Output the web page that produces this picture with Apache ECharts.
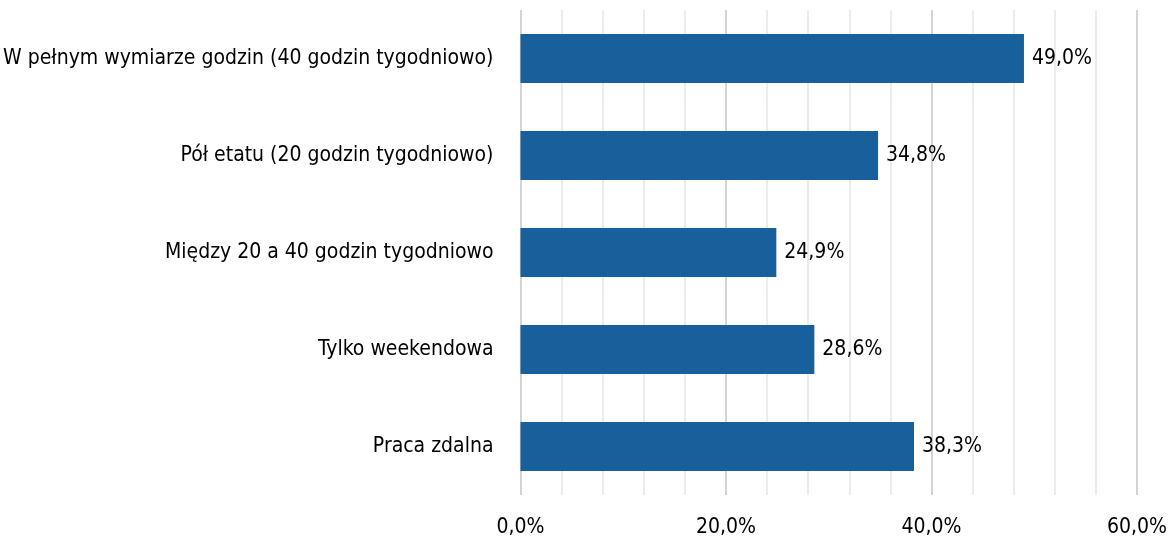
<!DOCTYPE html>
<html>
<head>
<meta charset="utf-8">
<script src="https://cdn.jsdelivr.net/npm/echarts@6/dist/echarts.min.js"></script>
<style>
  html, body { margin: 0; padding: 0; background: #fff; }
  #chart { width: 1170px; height: 545px; }
</style>
</head>
<body>
<div id="chart"></div>
<script>
// categories top to bottom
const categories = [
  'W pełnym wymiarze godzin (40 godzin tygodniowo)',
  'Pół etatu (20 godzin tygodniowo)',
  'Między 20 a 40 godzin tygodniowo',
  'Tylko weekendowa',
  'Praca zdalna'
];
const values = [49.0, 34.8, 24.9, 28.6, 38.3];

const FONT = '"Liberation Sans Narrow", "DejaVu Sans Condensed", sans-serif';
const pct = v => v.toFixed(1).replace('.', ',') + '%';

const chart = echarts.init(document.getElementById('chart'));
chart.setOption({
  animation: false,
  grid: { left: 520, right: 33, top: 10, bottom: 50 },
  xAxis: {
    type: 'value',
    min: 0,
    max: 60,
    interval: 20,
    axisLine: { show: false },
    axisTick: { show: false },
    axisLabel: {
      formatter: v => pct(v),
      color: '#000',
      fontFamily: FONT,
      fontSize: 21,
      margin: 22
    },
    splitLine: { lineStyle: { color: '#d4d4d4', width: 2 } },
    minorTick: { show: false, splitNumber: 5 },
    minorSplitLine: { show: true, lineStyle: { color: '#ececec', width: 2 } }
  },
  yAxis: {
    type: 'category',
    inverse: true,
    data: categories,
    axisLine: { show: false },
    axisTick: { show: false },
    axisLabel: {
      color: '#000',
      fontFamily: FONT,
      fontSize: 21,
      margin: 27
    }
  },
  series: [{
    type: 'bar',
    data: values,
    barWidth: 49,
    itemStyle: { color: '#17609b' },
    label: {
      show: true,
      position: 'right',
      distance: 8,
      formatter: p => pct(p.value),
      color: '#000',
      fontFamily: FONT,
      fontSize: 21
    }
  }]
});
</script>
</body>
</html>
